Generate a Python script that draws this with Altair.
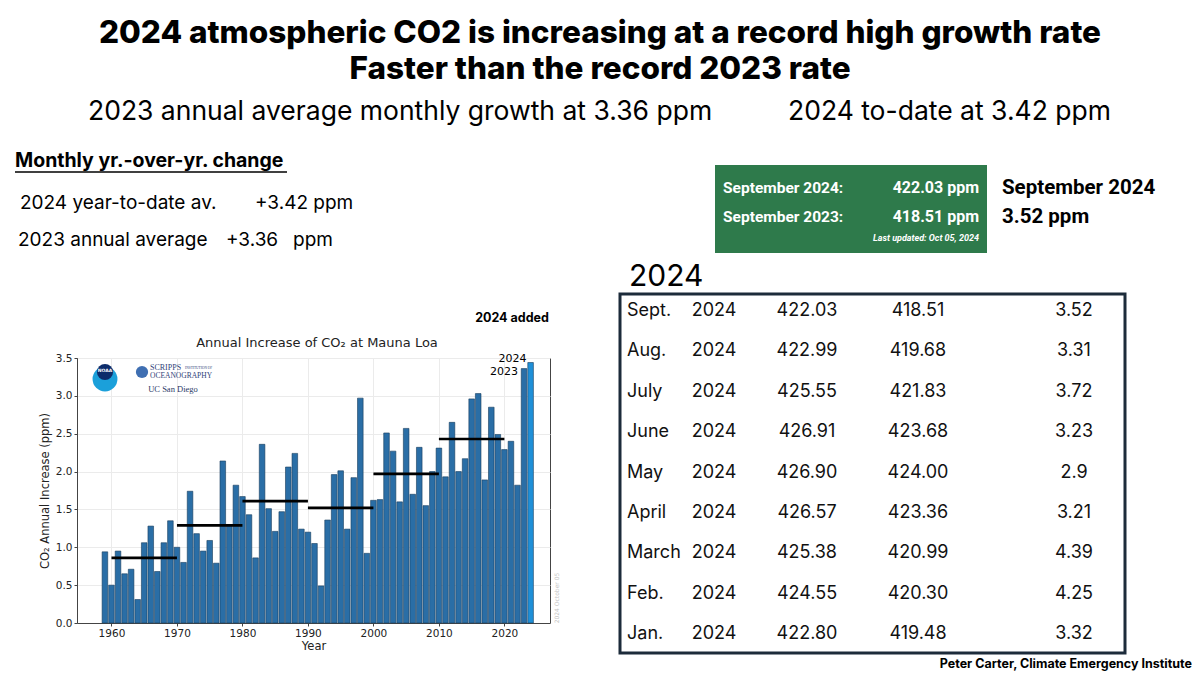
import altair as alt
import pandas as pd

# ---------------- data ----------------
years = list(range(1959, 2025))
growth = [0.94, 0.50, 0.95, 0.65, 0.71, 0.31, 1.06, 1.28, 0.68, 1.06, 1.35,
          1.00, 0.80, 1.74, 1.18, 0.95, 1.09, 0.79, 2.14, 1.29, 1.82,
          1.67, 1.43, 0.86, 2.36, 1.51, 1.21, 1.47, 2.06, 2.24, 1.24,
          1.20, 1.05, 0.49, 1.36, 1.96, 2.01, 1.24, 1.92, 2.97, 0.92,
          1.62, 1.63, 2.51, 2.27, 1.60, 2.57, 1.70, 2.32, 1.55, 2.00,
          2.31, 1.93, 2.65, 2.00, 2.17, 2.96, 3.03, 1.89, 2.85, 2.49,
          2.29, 2.40, 1.82, 3.36, 3.44]

decade_start = [1960, 1970, 1980, 1990, 2000, 2010]
decade_end = [1970, 1980, 1990, 2000, 2010, 2020]
decade_avg = [0.86, 1.29, 1.61, 1.52, 1.97, 2.43]

x_ticks = [1960, 1970, 1980, 1990, 2000, 2010, 2020]
y_ticks = [0.0, 0.5, 1.0, 1.5, 2.0, 2.5, 3.0, 3.5]

months = ["Sept.", "Aug.", "July", "June", "May", "April", "March", "Feb.", "Jan."]
table_year = ["2024"] * 9
co2_2024 = ["422.03", "422.99", "425.55", "426.91", "426.90", "426.57", "425.38", "424.55", "422.80"]
co2_2023 = ["418.51", "419.68", "421.83", "423.68", "424.00", "423.36", "420.99", "420.30", "419.48"]
yoy_change = ["3.52", "3.31", "3.72", "3.23", "2.9", "3.21", "4.39", "4.25", "3.32"]

avg_2023 = "3.36"
avg_2024 = "3.42"

# ---------------- layout ----------------
OX, OY = 77, 358          # page position of the bar plot's origin
W, H = 473, 265           # bar plot area
PAGE_W, PAGE_H = 1184, 667


def X(px):
    return px - OX


def Y(py):
    return py - OY


HEAD = "Inter"
MPL = "DejaVu Sans"
one = pd.DataFrame({"k": [0]})


def label(text, x, y, size, weight="normal", align="left", color="black",
          font=HEAD, angle=0, style="normal"):
    return alt.Chart(one).mark_text(
        text=text, align=align, baseline="middle", fontSize=size,
        fontWeight=weight, color=color, font=font, angle=angle, fontStyle=style
    ).encode(x=alt.value(X(x)), y=alt.value(Y(y)))


def box(x1, x2, y1, y2, **kw):
    return alt.Chart(one).mark_rect(**kw).encode(
        x=alt.value(X(x1)), x2=alt.value(X(x2)), y=alt.value(Y(y1)), y2=alt.value(Y(y2)))


# ---------------- bar chart ----------------
bars_df = pd.DataFrame({"year": years, "growth": growth})
dec_df = pd.DataFrame({"start": decade_start, "end": decade_end, "avg": decade_avg})

xscale = alt.Scale(domain=[1955.5, 2026.2], nice=False, zero=False)
yscale = alt.Scale(domain=[0, 3.5], nice=False)
xaxis = alt.Axis(values=x_ticks, format="d", title="Year", grid=True)
yaxis = alt.Axis(values=y_ticks, format=".1f", title="CO₂ Annual Increase (ppm)",
                 grid=True, labelOverlap=False)

bars = alt.Chart(bars_df).mark_bar(size=5.6, stroke="#173d5c", strokeWidth=0.6).encode(
    x=alt.X("year:Q", scale=xscale, axis=xaxis),
    y=alt.Y("growth:Q", scale=yscale, axis=yaxis),
    color=alt.condition(alt.datum.year == 2024, alt.value("#1f90d8"), alt.value("#2a6ea6")),
)

rules = alt.Chart(dec_df).mark_rule(color="black", strokeWidth=2.6).encode(
    x=alt.X("start:Q", scale=xscale, axis=xaxis), x2="end:Q",
    y=alt.Y("avg:Q", scale=yscale, axis=yaxis))

last = bars_df[bars_df.year >= 2023]
lab24 = alt.Chart(last[last.year == 2024]).mark_text(
    align="right", baseline="middle", dx=-4, dy=-4, fontSize=11, font=MPL, color="black"
).encode(x=alt.X("year:Q", scale=xscale, axis=xaxis), y=alt.Y("growth:Q", scale=yscale, axis=yaxis),
         text=alt.Text("year:Q", format="d"))
lab23 = alt.Chart(last[last.year == 2023]).mark_text(
    align="right", baseline="middle", dx=-6, dy=3, fontSize=11, font=MPL, color="black"
).encode(x=alt.X("year:Q", scale=xscale, axis=xaxis), y=alt.Y("growth:Q", scale=yscale, axis=yaxis),
         text=alt.Text("year:Q", format="d"))

bar_layer = alt.layer(bars, rules, lab24, lab23)

# ---------------- table ----------------
tbl = pd.DataFrame({"month": months, "yr": table_year, "a": co2_2024, "b": co2_2023, "d": yoy_change})
row_scale = alt.Scale(type="point", domain=months, range=[Y(311), Y(634)], padding=0)


def col(field, x, align):
    return alt.Chart(tbl).mark_text(align=align, baseline="middle", fontSize=18, font=HEAD, color="#111").encode(
        x=alt.value(X(x)), y=alt.Y("month:N", scale=row_scale, axis=None), text=f"{field}:N")


table_layers = [
    col("month", 627, "left"),
    col("yr", 714, "center"),
    col("a", 807, "center"),
    col("b", 918, "center"),
    col("d", 1074, "center"),
]

# ---------------- annotations ----------------
annos = [
    # header
    label("2024 atmospheric CO2 is increasing at a record high growth rate", 600, 34, 31.5, 800, "center"),
    label("Faster than the record 2023 rate", 600, 70, 31.5, 800, "center"),
    label(f"2023 annual average monthly growth at {avg_2023} ppm", 88, 112, 26.5),
    label(f"2024 to-date at {avg_2024} ppm", 788, 112, 26.5),
    # left text block
    label("Monthly yr.-over-yr. change", 15, 161, 19.5, "bold"),
    alt.Chart(one).mark_rule(color="black", strokeWidth=1.6).encode(
        x=alt.value(X(15)), x2=alt.value(X(287)), y=alt.value(Y(172))),
    label("2024 year-to-date av.", 20, 203, 19),
    label(f"+{avg_2024} ppm", 255, 203, 19),
    label("2023 annual average", 18, 240, 19),
    label(f"+{avg_2023}", 226, 240, 19),
    label("ppm", 293, 240, 19),
    # bar chart decorations
    label("2024 added", 512, 318, 12.5, "bold", "center"),
    label("Annual Increase of CO₂ at Mauna Loa", 317, 343, 13, "normal", "center", "#222", MPL),
    label("2024 October 05", 557, 598, 6, "normal", "center", "#c4c4c4", MPL, 270),
    # logos (approximation)
    alt.Chart(one).mark_circle(size=620, color="#1ba0da", opacity=1).encode(
        x=alt.value(X(105)), y=alt.value(Y(379))),
    alt.Chart(one).mark_circle(size=260, color="#0c2c6b", opacity=1).encode(
        x=alt.value(X(105)), y=alt.value(Y(372))),
    label("NOAA", 105, 371, 4.5, "bold", "center", "white", MPL),
    alt.Chart(one).mark_circle(size=150, color="#3f6fb2", opacity=1).encode(
        x=alt.value(X(142)), y=alt.value(Y(372))),
    label("SCRIPPS", 150, 368, 8, "normal", "left", "#2f3f78", "Liberation Serif"),
    label("INSTITUTION OF", 185, 368, 3.5, "normal", "left", "#2f3f78", "Liberation Serif"),
    label("OCEANOGRAPHY", 150, 376, 7.5, "normal", "left", "#2f3f78", "Liberation Serif"),
    label("UC San Diego", 173, 389, 8.5, "normal", "center", "#2b3a66", "Liberation Serif"),
    # green box
    box(715, 987, 165, 253, color="#2e7a4b"),
    label("September 2024:", 723, 188, 15.5, "bold", "left", "white", "Roboto"),
    label(f"{co2_2024[0]} ppm", 979, 188, 16, "bold", "right", "white", "Roboto"),
    label("September 2023:", 723, 217, 15.5, "bold", "left", "white", "Roboto"),
    label(f"{co2_2023[0]} ppm", 979, 217, 16, "bold", "right", "white", "Roboto"),
    label("Last updated: Oct 05, 2024", 979, 238, 9, "bold", "right", "white", "Roboto", 0, "italic"),
    label("September 2024", 1002, 188, 20.5, "bold", "left", "black", "Roboto"),
    label(f"{yoy_change[0]} ppm", 1002, 217, 20.5, "bold", "left", "black", "Roboto"),
    # table heading and frame
    label("2024", 629, 277, 30),
    box(620, 1125, 294, 653, fillOpacity=0, stroke="#1c2b3a", strokeWidth=3),
    # footer
    label("Peter Carter, Climate Emergency Institute", 1192, 664, 12.5, "bold", "right"),
]

chart = alt.layer(bar_layer, *table_layers, *annos).resolve_scale(y="independent").properties(
    width=W, height=H,
    autosize=alt.AutoSizeParams(type="none"),
    padding={"left": OX - 8, "top": OY - 8, "right": PAGE_W - (OX - 8) - W, "bottom": PAGE_H - (OY - 8) - H},
    background="white",
).configure_view(stroke="#444", strokeWidth=1).configure_axis(
    labelFont=MPL, labelFontSize=10.5, labelColor="#222", titleFont=MPL, titleFontSize=11.5,
    titleFontWeight="normal", titleColor="#222", tickSize=3, tickColor="#444",
    domainColor="#444", gridColor="#ebebeb", labelPadding=2,
).configure_axisY(titlePadding=5).configure_axisX(titlePadding=2)

chart.save("out.html", embed_options={"renderer": "svg", "actions": False})
